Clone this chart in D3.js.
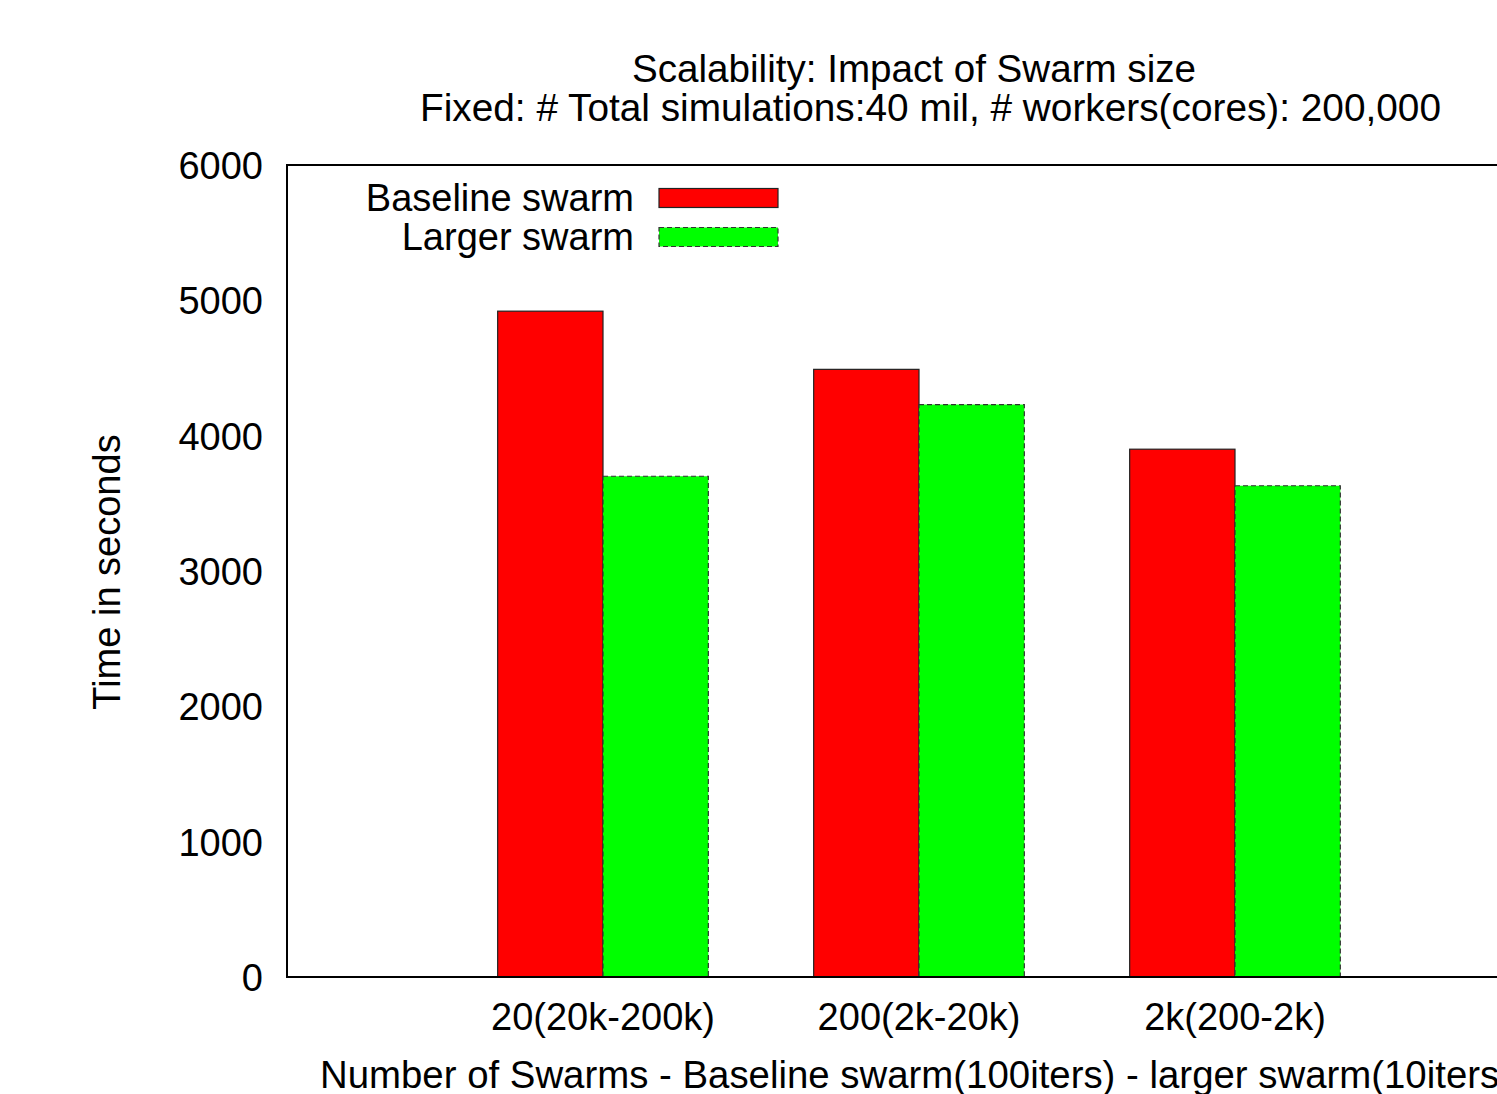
<!DOCTYPE html>
<html>
<head>
<meta charset="utf-8">
<script src="https://cdn.jsdelivr.net/npm/d3@7"></script>
<style>
  html, body { margin: 0; padding: 0; background: #fff; overflow: hidden; }
  svg text { font-family: "Liberation Sans", Arial, Helvetica, sans-serif; fill: #000; }
</style>
</head>
<body>
<svg id="chart" width="1497" height="1094"></svg>
<script>
// Swarm configurations (x categories)
const categories = ["20(20k-200k)", "200(2k-20k)", "2k(200-2k)"];
// Time in seconds for each configuration
const baseline = [4920, 4490, 3900];
const larger = [3700, 4230, 3630];
const seriesNames = ["Baseline swarm", "Larger swarm"];
const seriesColors = ["#ff0000", "#00ff00"];
const yTicks = [0, 1000, 2000, 3000, 4000, 5000, 6000];

const svg = d3.select("#chart");
const FS = 38;

const plot = { left: 287, top: 165, bottom: 977, right: 1551 };

const x = d3.scaleLinear().domain([0, 4]).range([plot.left, plot.right]);
const y = d3.scaleLinear().domain([0, 6000]).range([plot.bottom, plot.top]);
const barW = x(1 / 3) - x(0);

// Bars
const series = [baseline, larger];
series.forEach((vals, s) => {
  svg.append("g").selectAll("rect")
    .data(vals)
    .join("rect")
    .attr("x", (d, i) => x(i + 1) + (s === 0 ? -barW : 0))
    .attr("y", d => y(d))
    .attr("width", barW)
    .attr("height", d => y(0) - y(d))
    .attr("fill", seriesColors[s])
    .attr("stroke", s === 0 ? "#222" : "#333")
    .attr("stroke-width", 1.2)
    .attr("stroke-dasharray", s === 0 ? null : "5,3");
});

// Plot border (left, top, bottom)
svg.append("path")
  .attr("d", `M${plot.right},${plot.top}H${plot.left}V${plot.bottom}H${plot.right}`)
  .attr("fill", "none")
  .attr("stroke", "#000")
  .attr("stroke-width", 2);

// Y tick labels
svg.append("g").selectAll("text")
  .data(yTicks)
  .join("text")
  .attr("x", 263)
  .attr("y", d => y(d) + 14)
  .attr("text-anchor", "end")
  .attr("font-size", FS)
  .text(d => d);

// X tick labels
svg.append("g").selectAll("text")
  .data(categories)
  .join("text")
  .attr("x", (d, i) => x(i + 1))
  .attr("y", 1030)
  .attr("text-anchor", "middle")
  .attr("font-size", FS)
  .text(d => d);

// Axis titles
svg.append("text")
  .attr("x", 320)
  .attr("y", 1088)
  .attr("text-anchor", "start")
  .attr("font-size", FS)
  .attr("textLength", 1192)
  .attr("lengthAdjust", "spacingAndGlyphs")
  .text("Number of Swarms - Baseline swarm(100iters) - larger swarm(10iters)");

svg.append("text")
  .attr("transform", "translate(120,572) rotate(-90)")
  .attr("text-anchor", "middle")
  .attr("font-size", FS)
  .text("Time in seconds");

// Title
svg.append("text")
  .attr("x", 914).attr("y", 82)
  .attr("text-anchor", "middle")
  .attr("font-size", FS)
  .attr("textLength", 564)
  .attr("lengthAdjust", "spacingAndGlyphs")
  .text("Scalability: Impact of Swarm size");
svg.append("text")
  .attr("x", 930.5).attr("y", 121)
  .attr("text-anchor", "middle")
  .attr("font-size", FS)
  .attr("textLength", 1021)
  .attr("lengthAdjust", "spacingAndGlyphs")
  .text("Fixed: # Total simulations:40 mil, # workers(cores): 200,000");

// Legend
const legend = svg.append("g");
seriesNames.forEach((name, s) => {
  const cy = 198 + s * 39;
  legend.append("text")
    .attr("x", 634).attr("y", cy + 13)
    .attr("text-anchor", "end")
    .attr("font-size", FS)
    .text(name);
  legend.append("rect")
    .attr("x", 659).attr("y", cy - 9.5)
    .attr("width", 119).attr("height", 19)
    .attr("fill", seriesColors[s])
    .attr("stroke", s === 0 ? "#222" : "#333")
    .attr("stroke-width", 1.2)
    .attr("stroke-dasharray", s === 0 ? null : "5,3");
});
</script>
</body>
</html>
